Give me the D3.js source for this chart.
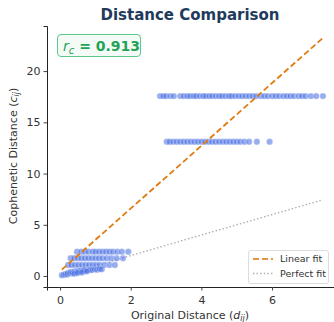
<!DOCTYPE html>
<html><head><meta charset="utf-8">
<script src="https://cdn.jsdelivr.net/npm/d3@7"></script>
<style>body{margin:0;background:#fff}svg{display:block;font-family:"DejaVu Sans",sans-serif}</style>
</head><body><svg id="c" width="334" height="322"></svg>
<script>
// ---- data ----
const levelHeights = [17.56, 13.1, 2.37, 1.73, 1.07];
const xLevel0 = [2.83,2.92,3.0,3.12,3.22,3.4,3.5,3.6,3.68,3.78,3.85,3.95,4.05,4.12,4.22,4.3,4.4,4.5,4.58,4.68,4.78,4.85,4.95,5.05,5.15,5.25,5.35,5.45,5.55,5.68,5.78,5.88,6.0,6.1,6.2,6.32,6.42,6.52,6.62,6.75,6.85,6.95,7.1,7.25,7.44];
const xLevel1 = [3.02,3.1,3.2,3.3,3.4,3.5,3.6,3.7,3.8,3.9,4.0,4.1,4.2,4.3,4.4,4.5,4.6,4.7,4.8,4.9,5.0,5.1,5.22,5.35,5.57,5.93];
const xLevel2 = [0.48,0.6,0.7,0.8,0.92,1.0,1.1,1.2,1.3,1.4,1.5,1.62,1.75,1.93];
const xLevel3 = [0.3,0.4,0.5,0.6,0.7,0.8,0.9,1.0,1.1,1.2,1.32,1.45,1.6,1.78];
const xLevel4 = [0.23,0.32,0.42,0.52,0.62,0.72,0.82,0.92,1.02,1.12,1.25,1.4,1.55];
const lowX = [0.05,0.1,0.15,0.2,0.22,0.28,0.3,0.35,0.4,0.45,0.5,0.55,0.6,0.65,0.7,0.78,0.85,0.9,0.98,1.05,1.12,1.18,0.4,0.5,0.62,0.75];
const lowY = [0.08,0.12,0.18,0.15,0.3,0.25,0.4,0.32,0.45,0.38,0.5,0.42,0.55,0.5,0.6,0.55,0.62,0.58,0.65,0.62,0.7,0.65,0.22,0.3,0.35,0.45];
const fitIntercept = 0.47, fitSlope = 3.06;
const fitRange = [0.05, 7.44];
const rc = "0.913";
const xTicks = [0,2,4,6];
const yTicks = [0,5,10,15,20];

// ---- build points ----
const pts = [];
[xLevel0,xLevel1,xLevel2,xLevel3,xLevel4].forEach((xs,i)=>xs.forEach(x=>pts.push({x, y:levelHeights[i]})));
lowX.forEach((x,i)=>pts.push({x, y:lowY[i]}));

const svg = d3.select("#c");
const x = d3.scaleLinear().domain([-0.37, 7.81]).range([47, 336]);
const y = d3.scaleLinear().domain([-1.07, 24.4]).range([287, 26]);

// perfect fit
svg.append("line").attr("x1",x(0)).attr("y1",y(0)).attr("x2",x(fitRange[1])).attr("y2",y(fitRange[1]))
  .attr("stroke","#999").attr("stroke-width",1.4).attr("stroke-dasharray","1.4,2.2").attr("opacity",0.8);

// points
svg.append("g").selectAll("circle").data(pts).join("circle")
  .attr("cx",d=>x(d.x)).attr("cy",d=>y(d.y)).attr("r",3.2)
  .attr("fill","rgba(65,105,225,0.55)").attr("stroke","rgba(255,255,255,0.6)").attr("stroke-width",0.5);

// linear fit
svg.append("line").attr("x1",x(fitRange[0])).attr("y1",y(fitIntercept+fitSlope*fitRange[0]))
  .attr("x2",x(fitRange[1])).attr("y2",y(fitIntercept+fitSlope*fitRange[1]))
  .attr("stroke","#e07b10").attr("stroke-width",1.8).attr("stroke-dasharray","6,3");

// axes
const xa = svg.append("g").attr("transform","translate(0,287)").call(d3.axisBottom(x).tickValues(xTicks).tickSize(3.5).tickFormat(d3.format("d")));
const ya = svg.append("g").attr("transform","translate(47,0)").call(d3.axisLeft(y).tickValues(yTicks).tickSize(3.5).tickFormat(d3.format("d")));
[xa,ya].forEach(a=>{
  a.select(".domain").attr("stroke","#222").attr("stroke-width",1);
  a.selectAll(".tick line").attr("stroke","#444");
  a.selectAll(".tick text").attr("font-size",11).attr("fill","#333").attr("font-family","DejaVu Sans");
});
xa.selectAll(".tick text").attr("dy","0.95em");

// labels
const xl = svg.append("text").attr("x",190).attr("y",319).attr("text-anchor","middle").attr("font-size",11).attr("fill","#333");
xl.append("tspan").text("Original Distance (");
xl.append("tspan").attr("font-style","italic").text("d");
xl.append("tspan").attr("font-style","italic").attr("font-size",8).attr("dy",2).text("ij");
xl.append("tspan").attr("dy",-2).text(")");

const yl = svg.append("text").attr("transform","translate(17,156) rotate(-90)").attr("text-anchor","middle").attr("font-size",11).attr("fill","#333");
yl.append("tspan").text("Cophenetic Distance (");
yl.append("tspan").attr("font-style","italic").text("c");
yl.append("tspan").attr("font-style","italic").attr("font-size",8).attr("dy",2).text("ij");
yl.append("tspan").attr("dy",-2).text(")");

// title
svg.append("text").attr("x",190).attr("y",20).attr("text-anchor","middle").attr("font-size",15).attr("font-weight","bold").attr("fill","#1f3b5c").text("Distance Comparison");

// annotation
svg.append("rect").attr("x",57.5).attr("y",34.5).attr("width",83).attr("height",22).attr("rx",3.5)
  .attr("fill","#f4fbf6").attr("stroke","#5cc98a").attr("stroke-width",1);
const at = svg.append("text").attr("x",63).attr("y",51).attr("font-size",14).attr("fill","#22a356");
at.append("tspan").attr("font-style","italic").text("r");
at.append("tspan").attr("font-style","italic").attr("font-size",10).attr("dy",3).text("c");
at.append("tspan").attr("dy",-3).attr("font-weight","bold").text(" = " + rc);

// legend
const lg = svg.append("g");
lg.append("rect").attr("x",248.5).attr("y",250.5).attr("width",80).attr("height",33).attr("rx",2.5)
  .attr("fill","#fff").attr("fill-opacity",0.85).attr("stroke","#ddd");
lg.append("line").attr("x1",253).attr("x2",273).attr("y1",259).attr("y2",259).attr("stroke","#e07b10").attr("stroke-width",1.8).attr("stroke-dasharray","6,3").attr("opacity",0.8);
lg.append("line").attr("x1",253).attr("x2",273).attr("y1",273.5).attr("y2",273.5).attr("stroke","#999").attr("stroke-width",1.4).attr("stroke-dasharray","1.4,2.2").attr("opacity",0.8);
lg.append("text").attr("x",280).attr("y",262).attr("font-size",9.5).attr("fill","#333").text("Linear fit");
lg.append("text").attr("x",280).attr("y",277).attr("font-size",9.5).attr("fill","#333").text("Perfect fit");
</script></body></html>
